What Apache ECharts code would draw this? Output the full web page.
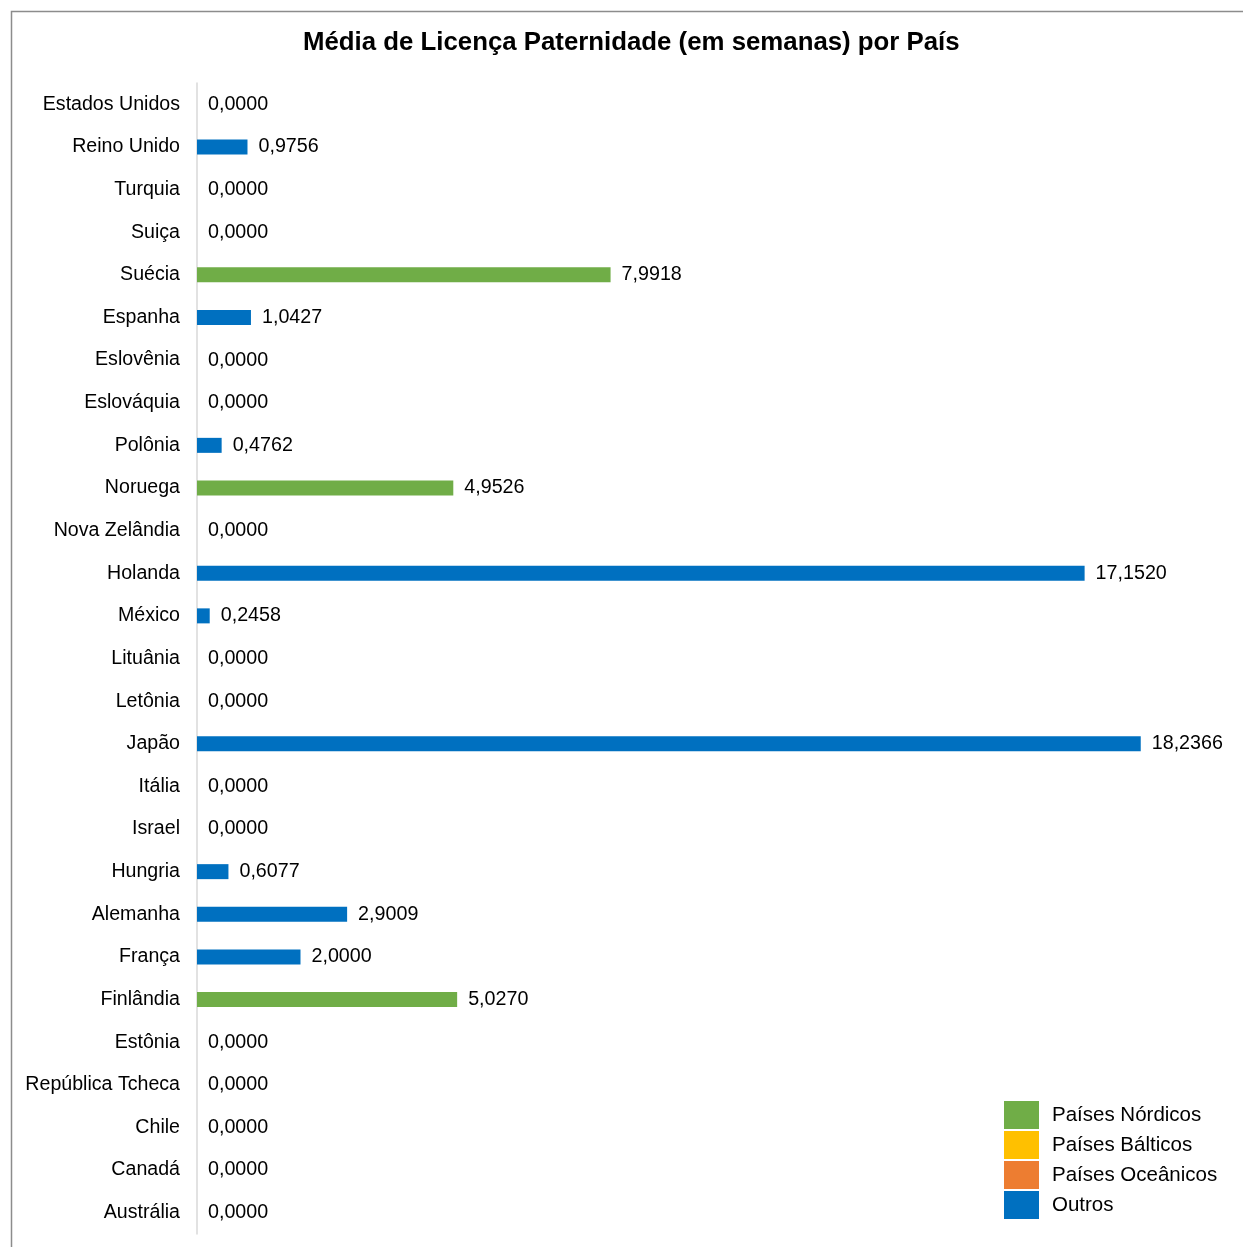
<!DOCTYPE html>
<html>
<head>
<meta charset="utf-8">
<script src="https://cdn.jsdelivr.net/npm/echarts@6/dist/echarts.min.js"></script>
<style>
  html, body { margin: 0; padding: 0; background: #fff; }
  #chart { width: 1243px; height: 1247px; }
</style>
</head>
<body>
<div id="chart"></div>
<script>
// paises, de cima para baixo
const categories = [
  "Estados Unidos", "Reino Unido", "Turquia", "Suiça", "Suécia", "Espanha",
  "Eslovênia", "Eslováquia", "Polônia", "Noruega", "Nova Zelândia", "Holanda",
  "México", "Lituânia", "Letônia", "Japão", "Itália", "Israel", "Hungria",
  "Alemanha", "França", "Finlândia", "Estônia", "República Tcheca", "Chile",
  "Canadá", "Austrália"
];
const values = [
  0, 0.9756, 0, 0, 7.9918, 1.0427,
  0, 0, 0.4762, 4.9526, 0, 17.152,
  0.2458, 0, 0, 18.2366, 0, 0, 0.6077,
  2.9009, 2.0, 5.027, 0, 0, 0,
  0, 0
];
const groups = [
  "Outros", "Outros", "Outros", "Outros", "Países Nórdicos", "Outros",
  "Outros", "Outros", "Outros", "Países Nórdicos", "Países Oceânicos", "Outros",
  "Outros", "Países Bálticos", "Países Bálticos", "Outros", "Outros", "Outros", "Outros",
  "Outros", "Outros", "Países Nórdicos", "Países Bálticos", "Outros", "Outros",
  "Outros", "Países Oceânicos"
];
const groupNames = ["Países Nórdicos", "Países Bálticos", "Países Oceânicos", "Outros"];
const groupColors = ["#70AD47", "#FFC000", "#ED7D31", "#0070C0"];

const font = "Liberation Sans, Arial, sans-serif";

const series = groupNames.map((g, k) => ({
  name: g,
  type: "bar",
  stack: "total",
  barWidth: 15,
  color: groupColors[k],
  label: {
    show: true,
    position: "right",
    distance: 11,
    color: "#000",
    fontFamily: font,
    fontSize: 19.7,
    formatter: (p) => p.value.toFixed(4).replace(".", ",")
  },
  data: values.map((v, i) => (groups[i] === g ? v : "-"))
}));

const myChart = echarts.init(document.getElementById("chart"));
myChart.setOption({
  animation: false,
  title: {
    text: "Média de Licença Paternidade (em semanas) por País",
    left: 303,
    top: 30,
    padding: 0,
    textStyle: {
      fontFamily: font,
      fontSize: 25.8,
      fontWeight: "bold",
      color: "#000"
    }
  },
  graphic: [
    {
      type: "rect",
      shape: { x: 11.5, y: 11.5, width: 1260, height: 1260 },
      style: { fill: "none", stroke: "#8c8c8c", lineWidth: 1.5 },
      silent: true
    }
  ],
  legend: {
    orient: "vertical",
    left: 1004,
    top: 1101,
    padding: 0,
    itemWidth: 35,
    itemHeight: 28,
    itemGap: 2,
    icon: "rect",
    data: groupNames,
    textStyle: { fontFamily: font, fontSize: 20.5, color: "#000", padding: [0, 0, 0, 8] }
  },
  grid: {
    left: 197,
    top: 83,
    width: 1035,
    height: 1151,
    containLabel: false
  },
  xAxis: {
    type: "value",
    min: 0,
    max: 20,
    show: false
  },
  yAxis: {
    type: "category",
    inverse: true,
    data: categories,
    axisLine: { show: true, lineStyle: { color: "#d9d9d9", width: 1.5 } },
    axisTick: { show: false },
    axisLabel: {
      margin: 17,
      color: "#000",
      fontFamily: font,
      fontSize: 19.6
    }
  },
  series: series
});
window.addEventListener("resize", () => {
  myChart.resize();
});
</script>
</body>
</html>
